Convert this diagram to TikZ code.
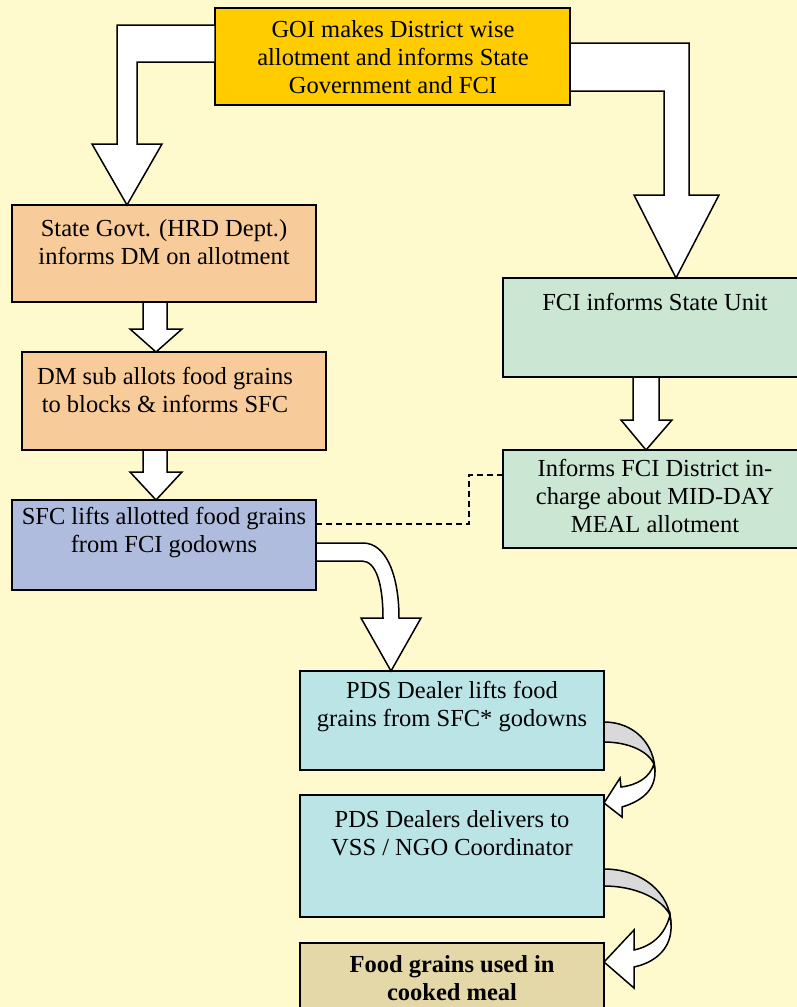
\documentclass[tikz,border=0pt]{standalone}
\usepackage{fontspec}
\setmainfont{Liberation Serif}
\usetikzlibrary{calc}
\definecolor{bgc}{RGB}{255,250,205}
\definecolor{goic}{RGB}{255,204,0}
\definecolor{peach}{RGB}{248,203,155}
\definecolor{lav}{RGB}{175,188,221}
\definecolor{pgreen}{RGB}{204,230,212}
\definecolor{pcyan}{RGB}{187,228,230}
\definecolor{tan}{RGB}{229,216,168}
\definecolor{backface}{RGB}{217,217,217}
\newcommand\fs{\fontsize{24.5}{28}\selectfont}
\begin{document}
\begin{tikzpicture}[x=1pt,y=-1pt,
  box/.style={draw=black, line width=1.5pt, rectangle, inner sep=0pt, outer sep=0pt, anchor=north west},
  txt/.style={font=\fs, align=center, inner sep=0pt, anchor=north},
  blockarrow/.style={draw=black, fill=white, line width=1.5pt, line join=miter},
  backarrow/.style={draw=black, fill=backface, line width=1.5pt},
  linkline/.style={draw=black, line width=1.5pt, dash pattern=on 6pt off 4pt}]
\useasboundingbox (0,0) rectangle (797,1007);
\fill[bgc] (0,0) rectangle (797,1007);
\clip (0,0) rectangle (797,1007);

% boxes
\node[box, fill=goic, minimum width=355pt, minimum height=97pt] (goi) at (215,8) {};
\node[box, fill=peach, minimum width=304pt, minimum height=97pt] (sg) at (12,205) {};
\node[box, fill=peach, minimum width=304pt, minimum height=98pt] (dm) at (22,352) {};
\node[box, fill=lav, minimum width=304pt, minimum height=90pt] (sfc) at (12,500) {};
\node[box, fill=pgreen, minimum width=300pt, minimum height=99pt] (fcis) at (503,278) {};
\node[box, fill=pgreen, minimum width=300pt, minimum height=98pt] (fcid) at (503,450) {};
\node[box, fill=pcyan, minimum width=304pt, minimum height=99pt] (pds1) at (300,671) {};
\node[box, fill=pcyan, minimum width=304pt, minimum height=122pt] (pds2) at (300,795) {};
\node[box, fill=tan, minimum width=304pt, minimum height=80pt] (food) at (300,943) {};

% texts
\node[txt] (goiT) at (393,18) {\strut GOI makes District wise\\allotment and informs State\\Government and FCI};
\node[txt] (sgT) at (164,217) {\strut State Govt. (HRD Dept.)\\informs DM on allotment};
\node[txt] (dmT) at (165,365) {\strut DM sub allots food grains\\to blocks \& informs SFC};
\node[txt] (sfcT) at (164,505) {\strut SFC lifts allotted food grains\\from FCI godowns};
\node[txt] (fcisT) at (655,291) {\strut FCI informs State Unit};
\node[txt] (fcidT) at (655,457) {\strut Informs FCI District in-\\charge about MID-DAY\\MEAL allotment};
\node[txt] (pds1T) at (452,679) {\strut PDS Dealer lifts food\\grains from SFC* godowns};
\node[txt] (pds2T) at (452,808) {\strut PDS Dealers delivers to\\VSS / NGO Coordinator};
\node[txt, font=\fs\bfseries] (foodT) at (452,953) {\strut Food grains used in\\cooked meal};

% big bent arrows from GOI
\path[blockarrow] (goi.west |- 0,25) -- (117,25) -- (117,144) -- (92,144)
  -- (sg.north -| 127,0) -- (162,144) -- (137,144) -- (137,62) -- (goi.west |- 0,62) -- cycle;
\path[blockarrow] (goi.east |- 0,43) -- (689,43) -- (689,195) -- (719,195)
  -- (fcis.north -| 676,0) -- (634,195) -- (664,195) -- (664,91) -- (goi.east |- 0,91) -- cycle;

% small straight arrows
\path[blockarrow] (sg.south -| 143,0) -- (sg.south -| 167,0) -- (167,329) -- (182,329)
  -- (dm.north -| 156,0) -- (130,329) -- (143,329) -- cycle;
\path[blockarrow] (dm.south -| 143,0) -- (dm.south -| 167,0) -- (167,472) -- (182,472)
  -- (sfc.north -| 156,0) -- (130,472) -- (143,472) -- cycle;
\path[blockarrow] (fcis.south -| 633,0) -- (fcis.south -| 659,0) -- (659,420) -- (672,420)
  -- (fcid.north -| 646,0) -- (621,420) -- (633,420) -- cycle;

% dashed link
\draw[linkline] (sfc.east |- 0,524) -- (469,524) -- (469,475) -- (fcid.west |- 0,475);

% curved arrow SFC -> PDS1
\path[blockarrow] (sfc.east |- 0,543) -- (363,543) .. controls (386,543) and (399,575) .. (399,618)
  -- (421,618) -- (pds1.north -| 391,0) -- (361,618) -- (383,618)
  .. controls (383,584) and (376,561) .. (362,561) -- (sfc.east |- 0,561) -- cycle;

% U-turn arrow PDS1 -> PDS2
\path[backarrow] (pds1.east |- 0,722) .. controls (634,722) and (655,744) .. (655,772)
  -- (654,764) .. controls (648,751) and (628,742) .. (pds1.east |- 0,742) -- cycle;
\path[blockarrow] (654,764) .. controls (650,777) and (638,785) .. (621,787)
  -- (620,778) -- (pds2.east |- 0,803) -- (622,817) -- (622,807)
  .. controls (642,801) and (655,790) .. (655,772) -- cycle;

% U-turn arrow PDS2 -> Food
\path[backarrow] (pds2.east |- 0,869) .. controls (642,869) and (671,893) .. (671,925)
  -- (670,915) .. controls (662,899) and (636,886) .. (pds2.east |- 0,886) -- cycle;
\path[blockarrow] (670,915) .. controls (665,935) and (652,946) .. (634,950)
  -- (634,930) -- (food.east |- 0,962) -- (634,988) -- (634,967)
  .. controls (657,962) and (672,947) .. (671,925) -- cycle;
\end{tikzpicture}
\end{document}
